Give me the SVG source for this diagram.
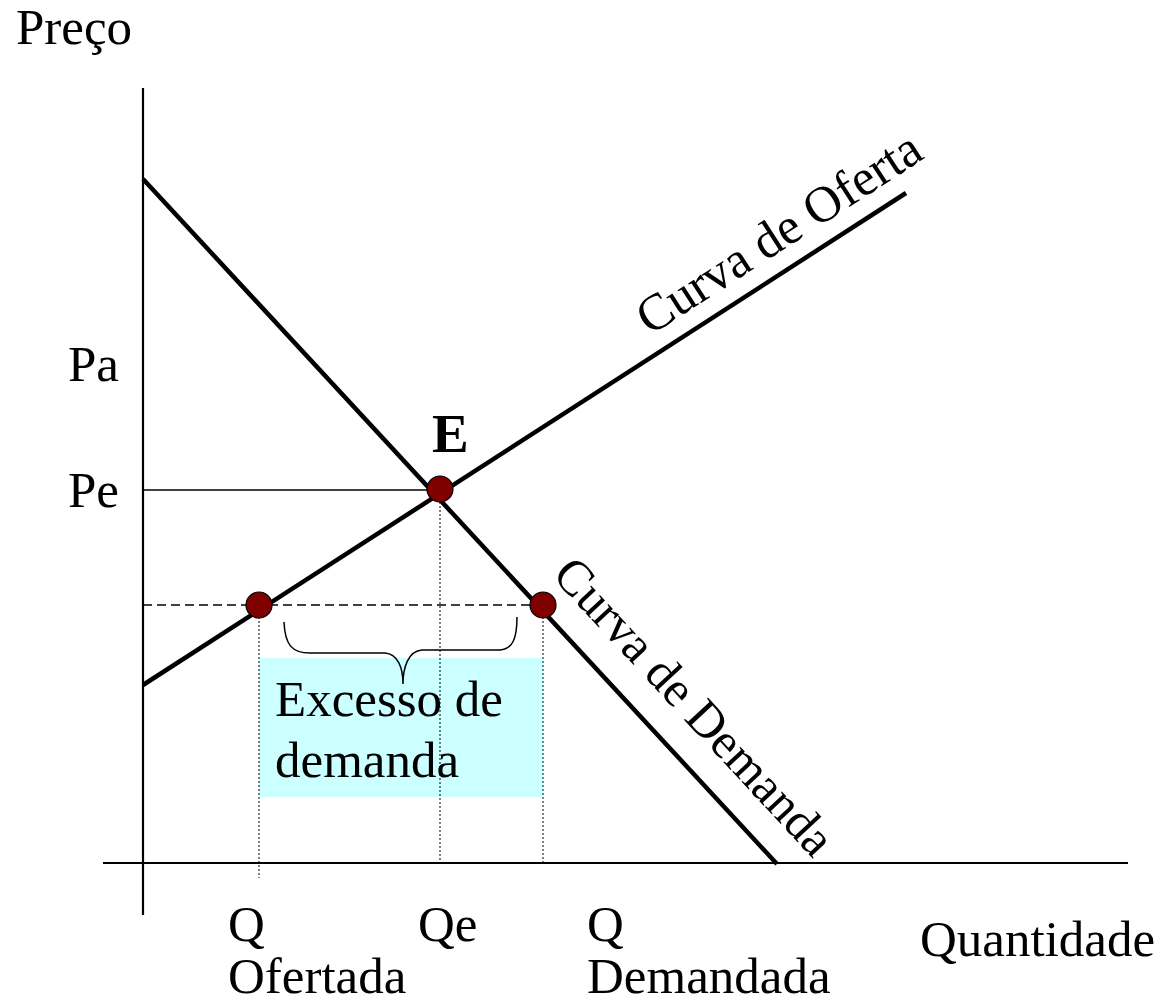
<svg xmlns="http://www.w3.org/2000/svg" width="1163" height="1003" viewBox="0 0 1163 1003">
<style>
text{font-family:"Liberation Serif","Times New Roman",serif;font-size:51px;fill:#000}
.axis{stroke:#000;stroke-width:2.2;fill:none}
.curve{stroke:#000;stroke-width:4.5;fill:none}
.thin{stroke:#000;stroke-width:1.5;fill:none}
.dash{stroke:#000;stroke-width:1.3;stroke-dasharray:9 5;fill:none}
.dot{stroke:#000;stroke-width:1;stroke-dasharray:2 2;fill:none}
.pt{fill:#800000;stroke:#000;stroke-width:1.2}
</style>
<rect width="1163" height="1003" fill="#fff"/>
<g id="excess-box">
<rect x="259" y="658" width="284" height="139" fill="#CCFFFF"/>
<text x="275" y="716">Excesso de</text>
<text x="275" y="777">demanda</text>
</g>
<g id="connectors">
<line class="axis" x1="143" y1="88" x2="143" y2="915"/>
<line class="axis" x1="103" y1="863" x2="1128" y2="863"/>
<line class="thin" x1="143" y1="490" x2="440" y2="490"/>
<line class="dash" x1="143" y1="605" x2="543" y2="605"/>
<line class="dot" x1="259" y1="605" x2="259" y2="878"/>
<line class="dot" x1="440" y1="490" x2="440" y2="863"/>
<line class="dot" x1="543" y1="605" x2="543" y2="863"/>
<path class="thin" d="M284,622 C285,645 292,653 310,653 L385,653 C398,654 403,668 403,684 C403,668 408,651 422,650 L500,650 C512,649 517,640 517,617"/>
</g>
<g id="demand-curve">
<line class="curve" x1="143" y1="179" x2="777" y2="864"/>
<text transform="translate(551,576) rotate(47.2)" style="font-size:50px">Curva de Demanda</text>
</g>
<g id="supply-curve">
<line class="curve" x1="143" y1="685" x2="906" y2="193"/>
<text transform="translate(650,336) rotate(-32.9)">Curva de Oferta</text>
</g>
<g id="point-E">
<circle class="pt" cx="440" cy="489" r="13"/>
<text x="432" y="452" font-weight="bold" style="font-size:55px">E</text>
</g>
<g id="point-supplied">
<circle class="pt" cx="259" cy="605" r="13"/>
</g>
<g id="point-demanded">
<circle class="pt" cx="543" cy="605" r="13"/>
</g>
<g id="labels">
<text x="16" y="44">Preço</text>
<text x="68" y="381">Pa</text>
<text x="68" y="507">Pe</text>
<text x="228" y="941">Q</text>
<text x="228" y="993">Ofertada</text>
<text x="418" y="941">Qe</text>
<text x="587" y="941">Q</text>
<text x="587" y="993">Demandada</text>
<text x="920" y="956">Quantidade</text>
</g>
</svg>
